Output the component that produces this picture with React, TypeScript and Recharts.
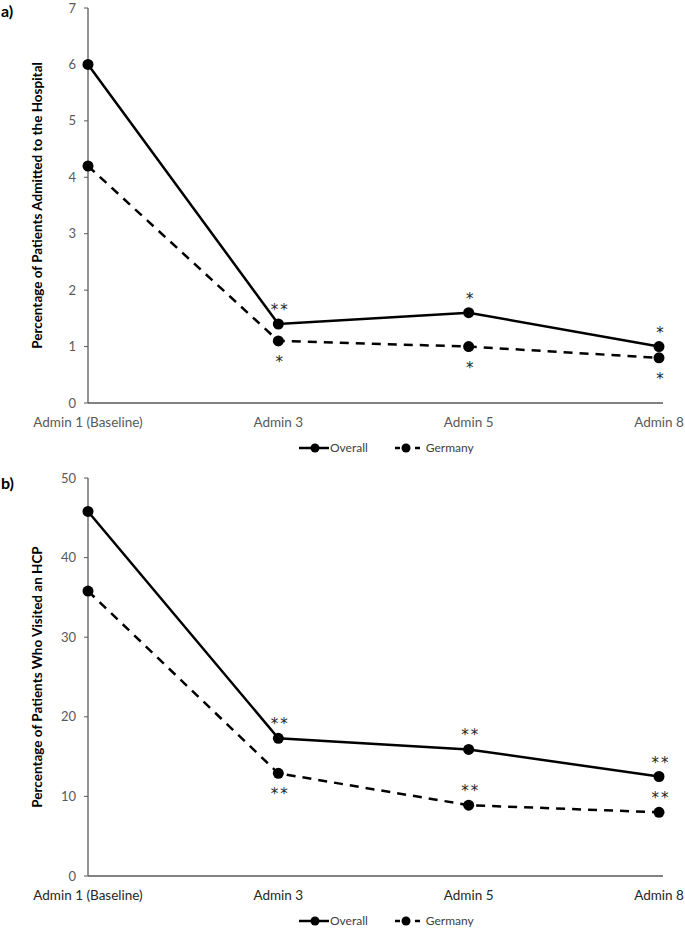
import { LineChart, Line, XAxis, YAxis, LabelList } from "recharts";

const categories = ["Admin 1 (Baseline)", "Admin 3", "Admin 5", "Admin 8"];

// panel a) hospital admissions
const hospitalOverall = [6.0, 1.4, 1.6, 1.0];
const hospitalGermany = [4.2, 1.1, 1.0, 0.8];
const hospitalOverallSig = ["", "**", "*", "*"];
const hospitalGermanySig = ["", "*", "*", "*"];
const hospitalGermanySigPos = ["", "below", "below", "below"];
const hospitalTicks = [0, 1, 2, 3, 4, 5, 6, 7];

// panel b) HCP visits
const hcpOverall = [45.8, 17.3, 15.9, 12.5];
const hcpGermany = [35.8, 12.9, 8.9, 8.0];
const hcpOverallSig = ["", "**", "**", "**"];
const hcpGermanySig = ["", "**", "**", "**"];
const hcpGermanySigPos = ["", "below", "above", "above"];
const hcpTicks = [0, 10, 20, 30, 40, 50];

const FONT = "Lato, 'Open Sans', sans-serif";
const XAXIS_H = 30;

const sigLabel = (marks: string[], pos?: string[]) => (props: any) => {
  const { x, y, index } = props;
  const m = marks[index];
  if (!m) return null;
  const below = pos ? pos[index] === "below" : false;
  return (
    <text
      x={Number(x) + 2}
      y={below ? Number(y) + 26 : Number(y) - 9}
      textAnchor="middle"
      fontSize={15}
      fill="#262626"
      fontFamily="'DejaVu Sans', sans-serif"
      letterSpacing={2}
    >
      {m}
    </text>
  );
};

function ChartLegend({ top }: { top: number }) {
  return (
    <div
      style={{
        position: "absolute",
        top: top - 8,
        left: 299,
        display: "flex",
        alignItems: "center",
        fontFamily: FONT,
        fontSize: 12,
        color: "#404040",
        lineHeight: "16px",
      }}
    >
      <svg width={30} height={12}>
        <line x1={0} y1={6} x2={30} y2={6} stroke="#000" strokeWidth={2.5} />
        <circle cx={16} cy={6} r={4.5} fill="#000" />
      </svg>
      <span style={{ marginLeft: 1 }}>Overall</span>
      <svg width={25} height={12} style={{ marginLeft: 27 }}>
        <line x1={0} y1={6} x2={25} y2={6} stroke="#000" strokeWidth={2.5} strokeDasharray="5 5" />
        <circle cx={11} cy={6} r={4.5} fill="#000" />
      </svg>
      <span style={{ marginLeft: 6 }}>Germany</span>
    </div>
  );
}

function Panel(props: {
  overall: number[];
  germany: number[];
  overallSig: string[];
  germanySig: string[];
  germanySigPos: string[];
  ticks: number[];
  title: string;
  height: number;
  top: number;
  plotH: number;
  catColor: string;
}) {
  const data = categories.map((c, i) => ({
    name: c,
    overall: props.overall[i],
    germany: props.germany[i],
  }));
  const max = props.ticks[props.ticks.length - 1];
  return (
    <LineChart
      width={685}
      height={props.height}
      data={data}
      margin={{ top: props.top, right: 22, left: 0, bottom: props.height - props.top - props.plotH - XAXIS_H }}
    >
      <XAxis
        dataKey="name"
        tickLine={false}
        axisLine={{ stroke: "#595959", strokeWidth: 1.3 }}
        tick={{ fill: props.catColor, fontSize: 13.5, fontFamily: FONT }}
        tickMargin={8}
        padding={{ left: 0, right: 4 }}
        interval={0}
        height={XAXIS_H}
      />
      <YAxis
        width={88}
        domain={[0, max]}
        ticks={props.ticks}
        interval={0}
        tickSize={4}
        tickMargin={8}
        tickLine={{ stroke: "#595959" }}
        axisLine={{ stroke: "#595959", strokeWidth: 1.3 }}
        tick={{ fill: "#595959", fontSize: 13, fontFamily: FONT }}
        label={{
          content: (p: any) => {
            const vb = p.viewBox || {};
            const cx = 37;
            const cy = vb.y + vb.height / 2;
            return (
              <text
                x={cx}
                y={cy}
                transform={`rotate(-90 ${cx} ${cy})`}
                textAnchor="middle"
                dominantBaseline="central"
                fontFamily={FONT}
                fontWeight="bold"
                fontSize={13.5}
                fill="#000"
              >
                {props.title}
              </text>
            );
          },
        }}
      />
      <Line
        type="linear"
        dataKey="overall"
        name="Overall"
        stroke="#000"
        strokeWidth={2.5}
        dot={{ r: 5.5, fill: "#000", stroke: "#000", strokeWidth: 0 }}
        isAnimationActive={false}
      >
        <LabelList dataKey="overall" content={sigLabel(props.overallSig)} />
      </Line>
      <Line
        type="linear"
        dataKey="germany"
        name="Germany"
        stroke="#000"
        strokeWidth={2.5}
        strokeDasharray="9 7"
        dot={{ r: 5.5, fill: "#000", stroke: "#000", strokeWidth: 0 }}
        isAnimationActive={false}
      >
        <LabelList dataKey="germany" content={sigLabel(props.germanySig, props.germanySigPos)} />
      </Line>
    </LineChart>
  );
}

export default function App() {
  return (
    <div style={{ position: "absolute", left: 0, top: 0, width: 685, height: 939, background: "#fff" }}>
      <div style={{ position: "absolute", left: 0, top: 0 }}>
        <Panel
          overall={hospitalOverall}
          germany={hospitalGermany}
          overallSig={hospitalOverallSig}
          germanySig={hospitalGermanySig}
          germanySigPos={hospitalGermanySigPos}
          ticks={hospitalTicks}
          title="Percentage of Patients Admitted to the Hospital"
          height={460}
          top={8}
          plotH={395}
          catColor="#595959"
        />
      </div>
      <div style={{ position: "absolute", left: 0, top: 460 }}>
        <Panel
          overall={hcpOverall}
          germany={hcpGermany}
          overallSig={hcpOverallSig}
          germanySig={hcpGermanySig}
          germanySigPos={hcpGermanySigPos}
          ticks={hcpTicks}
          title="Percentage of Patients Who Visited an HCP"
          height={479}
          top={18}
          plotH={398}
          catColor="#262626"
        />
      </div>
      <ChartLegend top={448} />
      <ChartLegend top={921} />
      <div style={{ position: "absolute", left: 1, top: 2, fontFamily: FONT, fontWeight: "bold", fontSize: 16, lineHeight: "18px" }}>a)</div>
      <div style={{ position: "absolute", left: 1, top: 474, fontFamily: FONT, fontWeight: "bold", fontSize: 16, lineHeight: "18px" }}>b)</div>
    </div>
  );
}
